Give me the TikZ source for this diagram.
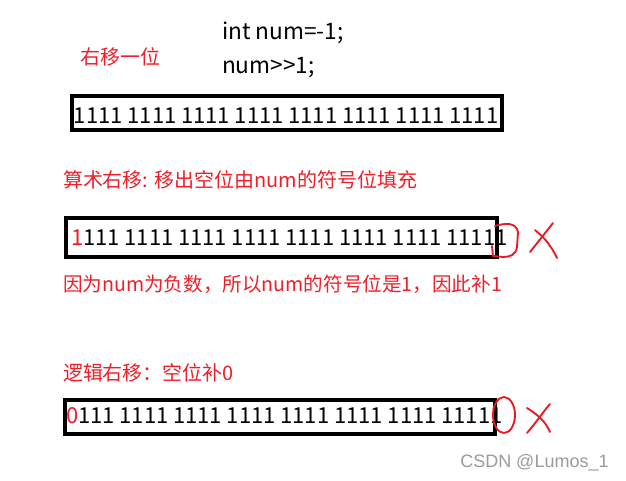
\documentclass[tikz,border=0pt]{standalone}
\usepackage{fontspec}
\setmainfont{Noto Sans CJK SC}
\newfontfamily\wmfont{Liberation Sans}
\definecolor{txtred}{RGB}{240,30,40}
\definecolor{penred}{RGB}{235,25,35}
\definecolor{wmgray}{RGB}{155,155,155}
\newcommand\bitfont{\fontsize{16.5}{20}\selectfont\spaceskip=3.6pt\relax}
\begin{document}
\begin{tikzpicture}[x=0.75pt,y=-0.75pt,
  lbl/.style={anchor=base west, inner sep=0pt, outer sep=0pt, text=txtred, font=\fontsize{15}{18}\selectfont},
  code/.style={anchor=base west, inner sep=0pt, outer sep=0pt, font=\fontsize{17}{20}\selectfont},
  bits/.style={anchor=base west, inner sep=0pt, outer sep=0pt, font=\bitfont},
  bitbox/.style={draw=black, line width=2.6pt},
  pen/.style={draw=penred, line width=1.4pt, line cap=round, line join=round}]
\useasboundingbox (0,0) rectangle (626,481);
\fill[white] (0,0) rectangle (626,481);

% texts at top
\node[lbl] (title) at (80,65) {右移一位};
\node[code] (c1) at (222,40) {int num=-1;};
\node[code] (c2) at (222,74) {num{>}{>}1;};

% row 1
\draw[bitbox] (72,96) rectangle (502,130);
\node[bits] (r1) at (74,124) {1111 1111 1111 1111 1111 1111 1111 1111};

% arithmetic shift
\node[lbl] (arith) at (63,188) {算术右移: 移出空位由num的符号位填充};
\draw[bitbox] (66,218) rectangle (497,257);
\node[bits] (r2) at (71,246) {\textcolor{txtred}{1}111 1111 1111 1111 1111 1111 1111 11111};
\node[lbl, font=\fontsize{14.7}{18}\selectfont] (why) at (63,292) {因为num为负数，所以num的符号位是1，因此补1};

% pen marks row 2
\draw[pen] (495,226) .. controls (505,223) and (516,222) .. (518,232)
  -- (517,247) .. controls (516,255) and (510,257) .. (503,257) -- (493,256) -- (492,246);
\draw[pen] (530,252) .. controls (538,242) and (546,232) .. (553,223);
\draw[pen] (535,230) .. controls (542,236) and (548,242) .. (550,246)
  .. controls (553,250) and (555,254) .. (557,258);

% logical shift
\node[lbl] (logic) at (63,381) {逻辑右移：空位补0};
\draw[bitbox] (65,400) rectangle (495,434);
\node[bits] (r3) at (66,424) {\textcolor{txtred}{0}111 1111 1111 1111 1111 1111 1111 11111};

% pen marks row 3
\draw[pen] (504,415) ellipse [x radius=11, y radius=18];
\draw[pen] (527,433) .. controls (535,424) and (543,412) .. (550,404);
\draw[pen] (527,408) .. controls (535,413) and (545,420) .. (550,432);

% watermark
\node[anchor=base west, inner sep=0pt, text=wmgray, font=\wmfont\fontsize{13.5}{16}\selectfont] (wm) at (460,468) {CSDN @Lumos\_1};
\end{tikzpicture}
\end{document}
